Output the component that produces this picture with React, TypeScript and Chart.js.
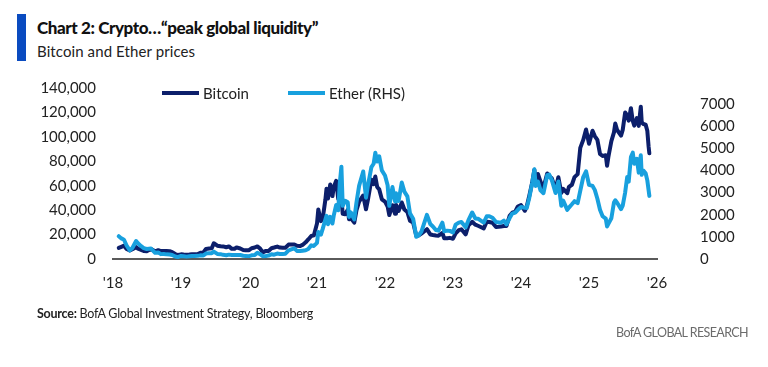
import React, { useEffect, useRef } from "react";
import { Chart, registerables } from "chart.js";

Chart.register(...registerables);

const TITLE = "Chart 2: Crypto…“peak global liquidity”";
const SUBTITLE = "Bitcoin and Ether prices";
const SOURCE_LABEL = "Source:";
const SOURCE_TEXT = " BofA Global Investment Strategy, Bloomberg";
const BRAND = "BofA GLOBAL RESEARCH";
const SERIES_NAMES = ["Bitcoin", "Ether (RHS)"];

const yearTicks = [2018, 2019, 2020, 2021, 2022, 2023, 2024, 2025, 2026];
const leftTicks = [0, 20000, 40000, 60000, 80000, 100000, 120000, 140000];
const rightTicks = [0, 1000, 2000, 3000, 4000, 5000, 6000, 7000];

const dates = [
  "2018-02-01","2018-02-15","2018-03-01","2018-03-15","2018-04-01","2018-04-15","2018-05-05","2018-05-15","2018-06-01","2018-06-15",
  "2018-07-01","2018-07-24","2018-08-15","2018-09-01","2018-09-15","2018-10-01","2018-10-15","2018-11-01","2018-11-15","2018-12-01",
  "2018-12-15","2019-01-01","2019-01-15","2019-02-01","2019-02-15","2019-03-01","2019-03-15","2019-04-01","2019-04-15","2019-05-01",
  "2019-05-15","2019-06-01","2019-06-15","2019-06-26","2019-07-15","2019-08-01","2019-08-15","2019-09-01","2019-09-15","2019-10-01",
  "2019-10-15","2019-10-26","2019-11-15","2019-12-01","2019-12-15","2020-01-01","2020-01-15","2020-02-01","2020-02-15","2020-03-01",
  "2020-03-15","2020-04-01","2020-04-15","2020-05-01","2020-05-15","2020-06-01","2020-06-15","2020-07-01","2020-07-15","2020-08-01",
  "2020-08-15","2020-09-01","2020-09-15","2020-10-01","2020-10-15","2020-11-01","2020-11-15","2020-12-01","2020-12-15","2021-01-01",
  "2021-01-08","2021-01-22","2021-02-01","2021-02-15","2021-02-21","2021-03-01","2021-03-13","2021-03-25","2021-04-01","2021-04-14",
  "2021-04-25","2021-05-03","2021-05-12","2021-05-19","2021-06-01","2021-06-15","2021-06-22","2021-07-01","2021-07-20","2021-08-01",
  "2021-08-15","2021-09-06","2021-09-21","2021-10-01","2021-10-20","2021-11-01","2021-11-10","2021-11-20","2021-12-01","2021-12-15",
  "2022-01-01","2022-01-15","2022-01-24","2022-02-10","2022-02-24","2022-03-01","2022-03-15","2022-04-01","2022-04-15","2022-05-01",
  "2022-05-15","2022-06-01","2022-06-18","2022-07-01","2022-07-15","2022-08-14","2022-09-01","2022-09-15","2022-10-01","2022-10-15",
  "2022-11-05","2022-11-15","2022-12-01","2022-12-15","2023-01-01","2023-01-15","2023-02-01","2023-02-15","2023-03-10","2023-03-25",
  "2023-04-14","2023-05-01","2023-05-15","2023-06-15","2023-07-01","2023-07-15","2023-08-01","2023-08-20","2023-09-15","2023-10-01",
  "2023-10-15","2023-11-01","2023-11-15","2023-12-01","2023-12-15","2024-01-01","2024-01-22","2024-02-01","2024-02-15","2024-03-01",
  "2024-03-13","2024-03-20","2024-04-01","2024-04-15","2024-05-01","2024-05-21","2024-06-01","2024-06-15","2024-07-05","2024-07-20",
  "2024-08-05","2024-08-15","2024-09-06","2024-09-15","2024-10-01","2024-10-15","2024-11-01","2024-11-15","2024-12-01","2024-12-16",
  "2025-01-01","2025-01-20","2025-02-01","2025-02-15","2025-03-01","2025-03-15","2025-04-01","2025-04-08","2025-04-15","2025-05-01",
  "2025-05-15","2025-05-22","2025-06-01","2025-06-22","2025-07-01","2025-07-14","2025-07-25","2025-08-02","2025-08-14","2025-08-24",
  "2025-09-01","2025-09-15","2025-09-25","2025-10-06","2025-10-11","2025-10-20","2025-11-01","2025-11-10","2025-11-17","2025-11-21",
];

const bitcoin = [
  9100,10000,10900,8200,6900,8000,9700,8500,7500,6500,
  6400,8200,6300,7200,6500,6600,6500,6350,5600,4100,
  3250,3800,3600,3450,3600,3820,3900,4100,5050,5350,
  8200,8550,8800,12900,10900,10400,10300,9600,10300,8300,
  8300,9500,8600,7400,7100,7200,8800,9400,10300,8500,
  5400,6600,6650,8800,9400,10200,9400,9200,9200,11800,
  11900,11900,10800,10600,11500,13700,16000,18800,19300,29000,
  40500,31000,33500,48600,57500,49600,61000,51500,59000,64000,
  49000,57000,50000,37000,36700,40200,32500,33500,29800,39900,
  47000,52000,40700,48200,65000,61300,67500,59000,57000,48900,
  47000,43000,36000,44000,37000,44400,39300,46300,40500,38500,
  31300,29800,19000,19300,20800,24400,20100,19700,19300,19100,
  21300,16900,17000,17300,16600,20900,23700,24300,20200,27500,
  30400,28100,27200,25100,30600,30300,29700,26100,26600,27000,
  27100,35400,37900,38700,43000,44200,39500,43100,52000,62400,
  73000,62000,69600,63400,58300,70000,67800,66000,56700,67000,
  54000,57500,53900,59100,60800,67000,69500,91000,97500,106000,
  94400,105000,100600,97500,86000,84300,85000,76300,83600,96500,
  103700,111000,105600,101000,105700,120000,117500,113300,123500,113000,
  109200,115400,109000,124700,112000,110500,110000,105000,92000,86500,
];

const ether = [
  1030,930,870,610,390,500,810,710,580,490,
  450,470,280,290,220,230,210,200,180,115,
  85,140,125,107,122,135,137,142,165,160,
  245,265,265,335,230,218,187,172,197,180,
  180,185,180,150,140,130,165,183,285,218,
  123,135,155,213,195,245,230,230,240,385,
  435,480,365,360,377,395,450,615,590,730,
  1220,1100,1370,1780,1950,1570,1900,1600,1970,2440,
  2200,3400,4170,2400,2630,2560,1900,2110,1790,2560,
  3300,3950,2770,3300,4150,4300,4800,4400,4630,4000,
  3770,3330,2400,3250,2600,2970,2620,3450,3040,2830,
  2060,1820,1000,1070,1230,1990,1580,1470,1310,1280,
  1640,1250,1280,1270,1200,1550,1640,1670,1430,1750,
  2100,1830,1820,1640,1930,1930,1860,1670,1640,1730,
  1560,1850,2050,2090,2220,2350,2310,2300,2780,3430,
  4050,3300,3500,3100,2970,3780,3810,3560,2980,3500,
  2400,2640,2220,2320,2470,2610,2520,3080,3700,3960,
  3350,3300,3120,2720,2220,1930,1820,1470,1590,1840,
  2550,2650,2540,2250,2410,3000,3700,3490,4600,4800,
  4300,4520,3900,4680,3800,3990,3870,3550,3100,2850,
];

function toYear(d: string): number {
  const [y, m, day] = d.split("-").map(Number);
  const start = Date.UTC(y, 0, 1);
  const end = Date.UTC(y + 1, 0, 1);
  return y + (Date.UTC(y, m - 1, day) - start) / (end - start);
}

const BTC_COLOR = "#0c1f6b";
const ETH_COLOR = "#18a0de";
const TEXT_COLOR = "#222222";
const FONT = "Lato, 'Open Sans', sans-serif";

export default function App() {
  const canvasRef = useRef<HTMLCanvasElement | null>(null);

  useEffect(() => {
    const canvas = canvasRef.current;
    if (!canvas) return;
    const xs = dates.map(toYear);
    const chart = new Chart(canvas, {
      type: "line",
      data: {
        datasets: [
          {
            label: SERIES_NAMES[0],
            data: xs.map((x, i) => ({ x, y: bitcoin[i] })),
            borderColor: BTC_COLOR,
            backgroundColor: BTC_COLOR,
            borderWidth: 4,
            borderJoinStyle: "round",
            borderCapStyle: "round",
            pointRadius: 0,
            tension: 0,
            yAxisID: "y",
            order: 1,
          },
          {
            label: SERIES_NAMES[1],
            data: xs.map((x, i) => ({ x, y: ether[i] })),
            borderColor: ETH_COLOR,
            backgroundColor: ETH_COLOR,
            borderWidth: 4,
            borderJoinStyle: "round",
            borderCapStyle: "round",
            pointRadius: 0,
            tension: 0,
            yAxisID: "y2",
            order: 0,
          },
        ],
      },
      options: {
        responsive: false,
        animation: false,
        layout: { padding: { top: 88, left: 0, right: 0, bottom: 0 } },
        plugins: { legend: { display: false }, tooltip: { enabled: false }, title: { display: false } },
        scales: {
          x: {
            type: "linear",
            min: 2018,
            max: 2026,
            afterBuildTicks: (s: any) => {
              s.ticks = yearTicks.map((v) => ({ value: v }));
            },
            afterFit: (s: any) => {
              s.height = 108;
            },
            grid: { display: false, drawTicks: false },
            border: { display: true, color: "#5a5a5a", width: 2 },
            ticks: {
              padding: 15,
              color: TEXT_COLOR,
              font: { family: FONT, size: 15 },
              maxRotation: 0,
              autoSkip: false,
              callback: (v: any) => "'" + String(v).slice(2),
            },
          },
          y: {
            position: "left",
            min: 0,
            max: 140000,
            afterBuildTicks: (s: any) => {
              s.ticks = leftTicks.map((v) => ({ value: v }));
            },
            afterFit: (s: any) => {
              s.width = 113;
            },
            grid: { display: false, drawTicks: false },
            border: { display: false },
            ticks: {
              padding: 17,
              color: TEXT_COLOR,
              font: { family: FONT, size: 15 },
              callback: (v: any) => Number(v).toLocaleString("en-US"),
            },
          },
          y2: {
            position: "right",
            min: 0,
            max: 7720,
            afterBuildTicks: (s: any) => {
              s.ticks = rightTicks.map((v) => ({ value: v }));
            },
            afterFit: (s: any) => {
              s.width = 111;
            },
            grid: { display: false, drawTicks: false },
            border: { display: false },
            ticks: {
              padding: 43,
              color: TEXT_COLOR,
              font: { family: FONT, size: 15 },
              callback: (v: any) => String(v),
            },
          },
        },
      },
    } as any);
    return () => chart.destroy();
  }, []);

  const legendItem = (name: string, color: string, left: number) => (
    <div style={{ position: "absolute", left, top: 84, height: 18, display: "flex", alignItems: "center" }}>
      <div style={{ width: 37, height: 4, background: color, marginRight: 4 }} />
      <span style={{ font: `15px ${FONT}`, color: TEXT_COLOR }}>{name}</span>
    </div>
  );

  return (
    <div style={{ position: "fixed", left: 0, top: 0, width: 768, height: 367, background: "#fff", overflow: "hidden" }}>
      <div style={{ position: "absolute", left: 17, top: 14, width: 9, height: 47, background: "#0a4bc0" }} />
      <div style={{ position: "absolute", left: 37, top: 17, font: `900 17px ${FONT}`, color: "#111", whiteSpace: "nowrap", letterSpacing: -0.4 }}>
        {TITLE}
      </div>
      <div style={{ position: "absolute", left: 37, top: 42, font: `15px ${FONT}`, color: "#222", whiteSpace: "nowrap", letterSpacing: 0.1 }}>
        {SUBTITLE}
      </div>
      <canvas ref={canvasRef} width={768} height={367} style={{ position: "absolute", left: 0, top: 0 }} />
      {legendItem(SERIES_NAMES[0], BTC_COLOR, 162)}
      {legendItem(SERIES_NAMES[1], ETH_COLOR, 288)}
      <div style={{ position: "absolute", left: 37, top: 306, font: `12.5px ${FONT}`, color: "#222", whiteSpace: "nowrap", letterSpacing: -0.25 }}>
        <b>{SOURCE_LABEL}</b>
        {SOURCE_TEXT}
      </div>
      <div style={{ position: "absolute", right: 20, top: 325, font: `12.5px ${FONT}`, color: "#6b6b6b", whiteSpace: "nowrap", letterSpacing: -0.6 }}>
        {BRAND}
      </div>
    </div>
  );
}
